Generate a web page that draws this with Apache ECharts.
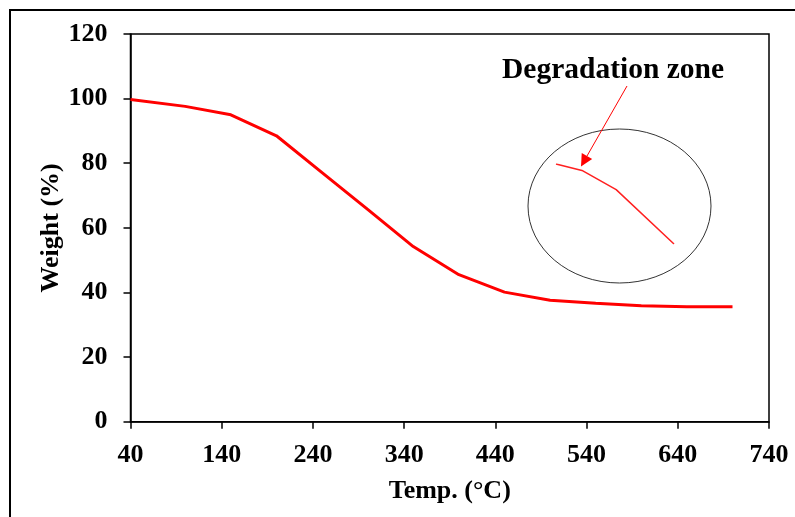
<!DOCTYPE html>
<html>
<head>
<meta charset="utf-8">
<script src="https://cdn.jsdelivr.net/npm/echarts@6/dist/echarts.min.js"></script>
<style>
  html, body { margin: 0; padding: 0; background: #fff; }
  #chart { width: 795px; height: 517px; }
</style>
</head>
<body>
<div id="chart"></div>
<script>
// TGA curve
const temps = [40, 100, 150, 200, 250, 300, 350, 400, 450, 500, 550, 600, 650, 700]
const weights = [99.7, 97.6, 95.0, 88.5, 77.1, 65.7, 54.2, 45.5, 40.1, 37.6, 36.7, 35.9, 35.6, 35.6]

// zoomed inset (arbitrary units inside the circle)
const insetX = [0, 22, 51, 100]
const insetY = [100, 92, 68, 0]

const xTicks = [40, 140, 240, 340, 440, 540, 640, 740]
const yTicks = [0, 20, 40, 60, 80, 100, 120]

const font = '"Liberation Serif", "Times New Roman", serif'

const chart = echarts.init(document.getElementById('chart'))

// arrow from label to the inset curve
function arrow(x1, y1, x2, y2) {
  const dx = x2 - x1, dy = y2 - y1
  const len = Math.sqrt(dx * dx + dy * dy)
  const ux = dx / len, uy = dy / len
  const hl = 12, hw = 6
  const bx = x2 - ux * hl, by = y2 - uy * hl
  return [
    {
      type: 'line',
      shape: { x1: x1, y1: y1, x2: bx, y2: by },
      style: { stroke: '#ff0000', lineWidth: 1 },
    },
    {
      type: 'polygon',
      shape: { points: [[x2, y2], [bx - uy * hw, by + ux * hw], [bx + uy * hw, by - ux * hw]] },
      style: { fill: '#ff0000' },
    },
  ]
}

const option = {
  animation: false,
  grid: [
    {
      left: 130.5,
      top: 34,
      right: 26,
      bottom: 95.3,
      show: true,
      borderColor: '#000',
      borderWidth: 1.5,
    },
    {
      left: 556,
      top: 164,
      width: 118,
      height: 80,
    },
  ],
  xAxis: [
    {
      type: 'value',
      min: 40,
      max: 740,
      interval: 100,
      name: 'Temp. (°C)',
      nameLocation: 'middle',
      nameGap: 57,
      nameMoveOverlap: false,
      nameTextStyle: { fontFamily: font, fontWeight: 'bold', fontSize: 26, color: '#000' },
      axisLine: { lineStyle: { color: '#000', width: 1.5 } },
      axisTick: { inside: false, length: 7, lineStyle: { color: '#000', width: 1.5 } },
      axisLabel: {
        margin: 21,
        fontFamily: font,
        fontWeight: 'bold',
        fontSize: 26,
        color: '#000',
        formatter: (v) => (xTicks.includes(v) ? String(v) : ''),
      },
      splitLine: { show: false },
    },
    {
      type: 'value',
      gridIndex: 1,
      min: 0,
      max: 100,
      show: false,
    },
  ],
  yAxis: [
    {
      type: 'value',
      min: 0,
      max: 120,
      interval: 20,
      name: 'Weight (%)',
      nameLocation: 'middle',
      nameGap: 66,
      nameMoveOverlap: false,
      nameTextStyle: { fontFamily: font, fontWeight: 'bold', fontSize: 26, color: '#000' },
      axisLine: { show: true, lineStyle: { color: '#000', width: 1.5 } },
      axisTick: { show: true, inside: false, length: 7, lineStyle: { color: '#000', width: 1.5 } },
      axisLabel: {
        margin: 23,
        padding: [3, 0, 0, 0],
        fontFamily: font,
        fontWeight: 'bold',
        fontSize: 26,
        color: '#000',
        formatter: (v) => (yTicks.includes(v) ? String(v) : ''),
      },
      splitLine: { show: false },
    },
    {
      type: 'value',
      gridIndex: 1,
      min: 0,
      max: 100,
      show: false,
    },
  ],
  series: [
    {
      type: 'line',
      data: temps.map((t, i) => [t, weights[i]]),
      showSymbol: false,
      lineStyle: { color: '#ff0000', width: 3 },
      z: 5,
    },
    {
      type: 'line',
      xAxisIndex: 1,
      yAxisIndex: 1,
      data: insetX.map((x, i) => [x, insetY[i]]),
      showSymbol: false,
      lineStyle: { color: '#ff2020', width: 1.5 },
      z: 5,
    },
  ],
  graphic: [
    {
      type: 'rect',
      shape: { x: 10, y: 10, width: 800, height: 520 },
      style: { fill: 'none', stroke: '#000', lineWidth: 2 },
      silent: true,
    },
    {
      type: 'ellipse',
      shape: { cx: 619.5, cy: 206, rx: 91.5, ry: 77 },
      style: { fill: 'none', stroke: '#333', lineWidth: 1 },
      silent: true,
    },
    {
      type: 'text',
      x: 613,
      y: 70,
      style: {
        text: 'Degradation zone',
        fontFamily: font,
        fontWeight: 'bold',
        fontSize: 29.5,
        fill: '#000',
        align: 'center',
        verticalAlign: 'middle',
      },
      silent: true,
    },
    ...arrow(627, 86, 581, 166.5),
  ],
}

chart.setOption(option)
</script>
</body>
</html>
